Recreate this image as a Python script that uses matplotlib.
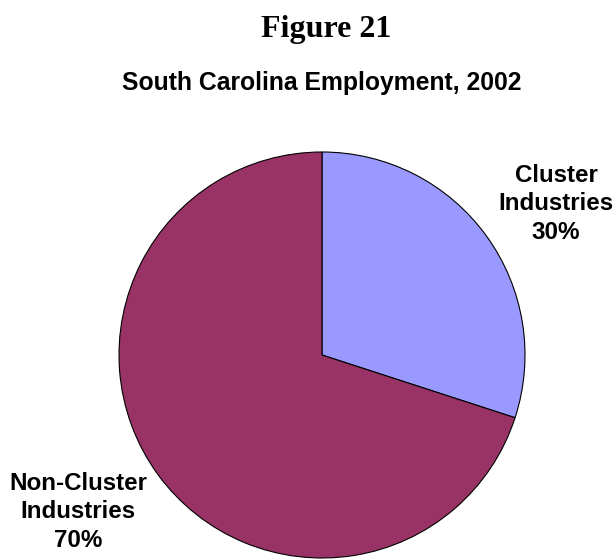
import matplotlib
matplotlib.use("Agg")
import matplotlib.pyplot as plt

labels = ["Cluster\nIndustries", "Non-Cluster\nIndustries"]
shares = [30, 70]
colors = ["#9999FF", "#993366"]

W, H = 614, 559
fig = plt.figure(figsize=(W / 100, H / 100), dpi=100)

# pie drawn in a square axes, centre (322, 355) px, radius 203 px
cx, cy, r = 322, 355, 203
ax = fig.add_axes([(cx - r) / W, (H - cy - r) / H, 2 * r / W, 2 * r / H])
ax.pie(shares, colors=colors, startangle=90, counterclock=False, radius=1,
       wedgeprops=dict(edgecolor="black", linewidth=0.8))
ax.set_xlim(-1, 1)
ax.set_ylim(-1, 1)
ax.axis("off")

fig.text(326 / W, 1 - 30 / H, "Figure 21", ha="center", va="center",
         family="Liberation Serif", fontweight="bold", fontsize=23)
fig.text(322 / W, 1 - 83 / H, "South Carolina Employment, 2002", ha="center", va="center",
         family="Liberation Sans", fontweight="bold", fontsize=17.8)

label_pos = [(556, 204), (78, 512)]
for lab, val, (x, y) in zip(labels, shares, label_pos):
    fig.text(x / W, 1 - y / H, f"{lab}\n{val}%", ha="center", va="center",
             family="Liberation Sans", fontweight="bold", fontsize=17.4,
             linespacing=1.32)

fig.savefig("out.png", dpi=100)
